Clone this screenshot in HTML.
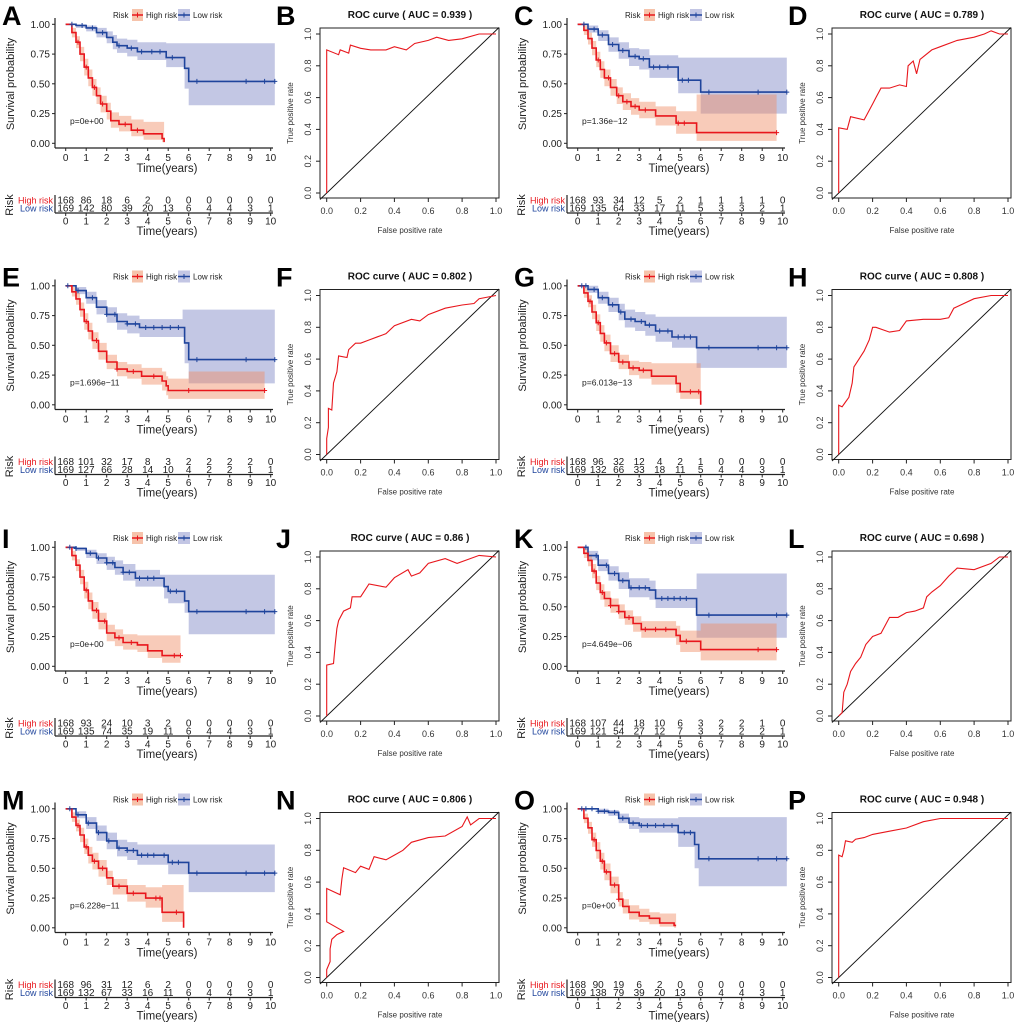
<!DOCTYPE html>
<html><head><meta charset="utf-8"><style>
body{margin:0;background:#fff;}
svg{display:block;font-family:"Liberation Sans",Arial,sans-serif;}
</style></head><body>
<svg id="fig" width="1020" height="1023" viewBox="0 0 1020 1023"></svg>
<script>
// ---------- KM data ----------
const A_hT=[0,0.3,0.5,0.7,0.9,1.1,1.3,1.5,1.7,2.0,2.2,2.6,3.2,3.8,4.7,4.8];
const A_hS=[1,.93,.85,.75,.64,.55,.47,.40,.33,.27,.19,.16,.11,.08,.04,.01];
const A_hLo=[1,.89,.80,.69,.57,.48,.40,.33,.26,.20,.13,.10,.06,.03,.01,0];
const A_hHi=[1,.97,.90,.81,.71,.62,.54,.47,.40,.34,.26,.23,.20,.18,.18,.18];
const A_hC=[0.6,1.0,1.4,1.8,2.9,3.5];
const A_lT=[0,0.5,1.0,1.5,2.0,2.3,2.5,3.0,3.5,4.9,5.8,6.0];
const A_lS=[1,.99,.97,.93,.89,.85,.82,.80,.77,.72,.63,.52];
const A_lLo=[1,.97,.94,.89,.84,.79,.76,.73,.70,.64,.46,.32];
const A_lHi=[1,1,.99,.97,.94,.91,.88,.87,.85,.84,.84,.84];
const A_lC=[0.3,0.8,1.3,1.8,2.6,3.2,3.7,4.2,4.6,5.2,6.4,8.8,9.7,10.2];
const A_rH=[168,86,18,6,2,0,0,0,0,0,0];
const A_rL=[169,142,80,39,20,13,6,4,4,3,1];

const C_hT=[0,.3,.5,.7,.9,1.1,1.3,1.6,1.9,2.2,2.6,3.0,3.8,4.8,5.8];
const C_hS=[1,.95,.88,.80,.70,.62,.55,.47,.40,.35,.31,.28,.23,.17,.09];
const C_hLo=[1,.91,.83,.74,.64,.55,.48,.40,.33,.28,.24,.21,.15,.08,.02];
const C_hHi=[1,.99,.93,.86,.77,.69,.62,.54,.47,.42,.38,.35,.31,.27,.41];
const C_hC=[1.0,1.5,2.0,2.4,2.8,3.3,4.9,5.2,9.7];
const C_lT=[0,.5,1.0,1.5,2.0,2.5,3.0,3.5,4.6,4.9,6.0];
const C_lS=[1,.96,.91,.83,.78,.73,.71,.64,.64,.53,.43];
const C_lLo=[1,.93,.86,.77,.71,.65,.62,.55,.55,.42,.25];
const C_lHi=[1,.99,.95,.89,.85,.80,.79,.74,.74,.72,.72];
const C_lC=[.3,.8,1.2,1.7,2.2,2.8,3.2,3.7,4.0,4.4,5.1,5.4,6.4,8.8,10.2];
const C_rH=[168,93,34,12,5,2,1,1,1,1,0];
const C_rL=[169,135,64,33,17,11,5,3,3,2,1];

const E_hT=[0,.3,.5,.7,.9,1.1,1.3,1.6,2.0,2.5,3.0,3.7,4.7,4.9,5.0,6.0];
const E_hS=[1,.95,.89,.80,.70,.62,.54,.45,.36,.30,.28,.24,.20,.16,.12,.12];
const E_hLo=[1,.91,.84,.74,.63,.55,.47,.38,.30,.24,.22,.17,.12,.08,.05,.05];
const E_hHi=[1,.99,.94,.86,.77,.69,.61,.52,.42,.36,.34,.31,.28,.24,.22,.28];
const E_hC=[1.0,1.5,2.5,3.3,4.3,6.0,9.7];
const E_lT=[0,.5,1.0,1.5,2.0,2.5,3.0,3.6,5.7,5.8,6.0];
const E_lS=[1,.96,.90,.82,.76,.70,.68,.65,.65,.52,.38];
const E_lLo=[1,.93,.85,.76,.69,.63,.60,.57,.57,.35,.18];
const E_lHi=[1,.99,.95,.88,.82,.77,.75,.72,.80,.80,.80];
const E_lC=[.1,.6,1.3,2.0,2.4,3.0,3.4,3.9,4.3,4.7,5.1,5.5,6.4,8.8,10.2];
const E_rH=[168,101,32,17,8,3,2,2,2,2,0];
const E_rL=[169,127,66,28,14,10,4,2,2,1,1];

const G_hT=[0,.3,.5,.7,.9,1.1,1.3,1.6,2.0,2.5,3.0,3.6,4.8,5.0,6.0];
const G_hS=[1,.94,.87,.78,.69,.60,.52,.43,.36,.31,.29,.24,.18,.11,0];
const G_hLo=[1,.90,.82,.72,.62,.53,.45,.36,.30,.25,.22,.17,.10,.05,0];
const G_hHi=[1,.98,.92,.84,.76,.67,.59,.50,.42,.37,.36,.35,.35,.35,.35];
const G_hC=[.6,1.0,1.4,1.8,2.2,2.7,3.2,5.5,5.9];
const G_lT=[0,.5,1.0,1.5,2.0,2.3,2.8,3.3,3.8,4.6,5.8];
const G_lS=[1,.97,.90,.84,.78,.72,.70,.67,.62,.57,.48];
const G_lLo=[1,.94,.85,.78,.71,.65,.62,.58,.53,.48,.31];
const G_lHi=[1,1,.95,.90,.85,.80,.78,.76,.74,.74,.74];
const G_lC=[.2,.4,.8,1.2,1.7,2.1,2.6,3.1,3.5,4.0,4.4,4.9,5.2,5.5,6.4,8.8,9.7,10.2];
const G_rH=[168,96,32,12,4,2,1,0,0,0,0];
const G_rL=[169,132,66,33,18,11,5,4,4,3,1];

const I_hT=[0,.3,.5,.7,.9,1.1,1.3,1.6,2.0,2.4,2.8,3.5,4.0,4.7];
const I_hS=[1,.93,.85,.75,.64,.55,.47,.38,.28,.24,.20,.18,.13,.09];
const I_hLo=[1,.89,.80,.69,.57,.48,.40,.31,.21,.17,.14,.12,.07,.03];
const I_hHi=[1,.97,.90,.81,.71,.62,.54,.45,.35,.31,.27,.26,.26,.26];
const I_hC=[1.0,1.5,1.9,2.6,3.2,5.3,5.6];
const I_lT=[0,.5,1.0,1.5,2.0,2.4,2.8,3.4,4.6,4.8,5.0,5.8,6.0];
const I_lS=[1,.99,.95,.91,.87,.83,.79,.74,.74,.67,.63,.55,.46];
const I_lLo=[1,.97,.91,.86,.81,.77,.72,.67,.67,.57,.53,.45,.27];
const I_lHi=[1,1,.98,.95,.92,.89,.86,.81,.77,.77,.77,.77,.77];
const I_lC=[.2,.5,1.2,1.6,2.0,2.3,2.8,3.1,3.6,4.0,4.3,5.1,5.4,6.4,8.8,9.7,10.2];
const I_rH=[168,93,24,10,3,2,0,0,0,0,0];
const I_rL=[169,135,74,35,19,11,6,4,4,3,1];

const K_hT=[0,.3,.5,.7,.9,1.1,1.3,1.6,2.0,2.3,2.7,3.1,4.6,4.8,5.0,6.0];
const K_hS=[1,.95,.89,.80,.70,.62,.57,.51,.46,.41,.36,.31,.31,.26,.21,.14];
const K_hLo=[1,.91,.84,.74,.64,.56,.50,.45,.40,.35,.29,.24,.24,.18,.12,.05];
const K_hHi=[1,.99,.94,.86,.76,.69,.63,.57,.52,.47,.42,.38,.38,.34,.30,.36];
const K_hC=[.8,1.2,1.6,2.0,2.5,3.3,3.8,4.3,5.3,8.8,9.7];
const K_lT=[0,.5,1.0,1.5,2.0,2.5,3.5,3.8,5.8];
const K_lS=[1,.93,.85,.78,.72,.66,.64,.57,.43];
const K_lLo=[1,.89,.80,.72,.65,.58,.56,.49,.24];
const K_lHi=[1,.97,.90,.84,.79,.74,.72,.65,.78];
const K_lC=[.4,.9,1.4,1.8,2.2,2.6,3.0,3.3,4.1,4.4,4.7,5.0,5.3,6.4,9.7,10.2];
const K_rH=[168,107,44,18,10,6,3,2,2,1,0];
const K_rL=[169,121,54,27,12,7,3,2,2,2,1];

const M_hT=[0,.3,.5,.7,.9,1.1,1.3,1.6,2.0,2.3,3.0,3.9,4.7,5.75];
const M_hS=[1,.93,.86,.78,.68,.61,.56,.50,.42,.35,.29,.25,.13,0];
const M_hLo=[1,.89,.81,.72,.62,.54,.49,.43,.36,.28,.22,.17,.05,0];
const M_hHi=[1,.97,.91,.84,.75,.68,.63,.57,.48,.41,.36,.34,.36,.36];
const M_hC=[.6,1.0,1.4,1.8,2.6,3.3,4.4,4.6,5.4];
const M_lT=[0,.5,1.0,1.5,2.0,2.5,3.0,3.5,5.0,6.0];
const M_lS=[1,.95,.88,.80,.73,.67,.65,.61,.55,.46];
const M_lLo=[1,.92,.83,.73,.66,.60,.57,.53,.45,.30];
const M_lHi=[1,.98,.93,.86,.80,.74,.72,.70,.70,.70];
const M_lC=[.2,.6,1.1,1.6,2.1,2.6,3.0,3.3,3.7,4.0,4.3,4.8,5.2,5.5,6.4,8.8,9.7,10.2];
const M_rH=[168,96,31,12,6,2,0,0,0,0,0];
const M_rL=[169,132,67,33,16,11,6,4,4,3,1];

const O_hT=[0,.3,.5,.7,.9,1.1,1.3,1.6,2.0,2.2,2.5,3.0,3.5,4.0,4.7];
const O_hS=[1,.92,.84,.74,.65,.56,.47,.36,.24,.18,.13,.10,.08,.04,.02];
const O_hLo=[1,.88,.79,.68,.58,.49,.40,.29,.18,.12,.07,.05,.03,.01,0];
const O_hHi=[1,.96,.89,.80,.72,.63,.54,.43,.30,.24,.19,.16,.13,.12,.12];
const O_hC=[.8,1.2,1.4,1.8,2.0];
const O_lT=[0,1.0,1.5,2.0,2.5,3.0,4.9,5.7,5.9];
const O_lS=[1,.98,.97,.92,.88,.86,.80,.70,.58];
const O_lLo=[1,.96,.94,.88,.83,.80,.68,.50,.35];
const O_lHi=[1,1,.99,.96,.93,.92,.93,.93,.93];
const O_lC=[.2,.4,.7,1.0,1.3,1.8,2.2,2.7,3.1,3.4,3.8,4.2,4.6,5.2,5.5,6.4,8.8,9.7,10.2];
const O_rH=[168,90,19,6,2,0,0,0,0,0,0];
const O_rL=[169,138,79,39,20,13,6,4,4,3,1];

// ---------- ROC data ----------
const B_fpr=[0,0,.07,.08,.13,.14,.2,.26,.35,.4,.47,.52,.6,.65,.72,.8,.9,1];
const B_tpr=[0,.9,.87,.9,.88,.93,.91,.9,.9,.92,.9,.94,.96,.98,.96,.97,1,1];
const D_fpr=[0,0,.05,.07,.15,.2,.22,.25,.3,.36,.4,.41,.44,.46,.48,.55,.6,.7,.8,.86,.9,.95,1];
const D_tpr=[0,.41,.40,.48,.46,.56,.6,.66,.66,.68,.67,.8,.83,.75,.84,.9,.92,.96,.98,1.0,1.02,1.0,1];
const F_fpr=[0,0,.01,.01,.03,.04,.06,.07,.12,.13,.17,.2,.25,.3,.35,.4,.5,.55,.6,.7,.8,.87,.9,1];
const F_tpr=[0,.1,.17,.29,.28,.45,.52,.62,.61,.66,.70,.70,.72,.74,.76,.81,.85,.84,.88,.92,.94,.95,.98,1];
const H_fpr=[0,0,.02,.04,.06,.08,.09,.12,.15,.18,.2,.22,.3,.36,.4,.5,.6,.65,.68,.7,.8,.9,1];
const H_tpr=[0,.31,.30,.33,.36,.45,.55,.60,.65,.72,.8,.8,.77,.78,.84,.85,.85,.86,.92,.93,.98,1,1];
const J_fpr=[0,0,.04,.05,.06,.07,.1,.14,.15,.2,.25,.35,.4,.48,.5,.55,.6,.7,.77,.9,1];
const J_tpr=[0,.32,.33,.45,.55,.6,.66,.68,.75,.75,.83,.81,.87,.92,.88,.9,.96,.99,.96,1.01,1];
const L_fpr=[0,.02,.03,.05,.07,.1,.13,.16,.2,.25,.3,.35,.4,.45,.5,.52,.55,.6,.65,.7,.8,.9,.95,1];
const L_tpr=[0,.02,.15,.2,.28,.33,.37,.45,.5,.52,.62,.62,.65,.66,.68,.75,.78,.82,.88,.93,.92,.96,1,1];
const N_fpr=[0,0,.02,.02,.03,.06,.1,0,0,.08,.09,.1,.17,.2,.25,.28,.35,.4,.45,.5,.6,.7,.8,.83,.85,.9,1];
const N_tpr=[0,.05,.1,.18,.24,.27,.29,.35,.56,.52,.62,.69,.66,.70,.68,.76,.74,.77,.80,.85,.88,.89,.95,1.01,.96,1,1];
const P_fpr=[0,0,.02,.03,.04,.08,.1,.15,.2,.3,.4,.5,.6,.7,.8,1];
const P_tpr=[0,.77,.76,.8,.86,.85,.87,.88,.9,.92,.94,.98,1,1,1,1];

const kmPanels=[
 {L:'A',col:0,row:0,p:'p=0e+00',h:[A_hT,A_hS,A_hLo,A_hHi,A_hC,4.8],l:[A_lT,A_lS,A_lLo,A_lHi,A_lC,10.2],rH:A_rH,rL:A_rL},
 {L:'C',col:1,row:0,p:'p=1.36e\u221212',h:[C_hT,C_hS,C_hLo,C_hHi,C_hC,9.7],l:[C_lT,C_lS,C_lLo,C_lHi,C_lC,10.2],rH:C_rH,rL:C_rL},
 {L:'E',col:0,row:1,p:'p=1.696e\u221211',h:[E_hT,E_hS,E_hLo,E_hHi,E_hC,9.7],l:[E_lT,E_lS,E_lLo,E_lHi,E_lC,10.2],rH:E_rH,rL:E_rL},
 {L:'G',col:1,row:1,p:'p=6.013e\u221213',h:[G_hT,G_hS,G_hLo,G_hHi,G_hC,6.0],l:[G_lT,G_lS,G_lLo,G_lHi,G_lC,10.2],rH:G_rH,rL:G_rL},
 {L:'I',col:0,row:2,p:'p=0e+00',h:[I_hT,I_hS,I_hLo,I_hHi,I_hC,5.6],l:[I_lT,I_lS,I_lLo,I_lHi,I_lC,10.2],rH:I_rH,rL:I_rL},
 {L:'K',col:1,row:2,p:'p=4.649e\u221206',h:[K_hT,K_hS,K_hLo,K_hHi,K_hC,9.7],l:[K_lT,K_lS,K_lLo,K_lHi,K_lC,10.2],rH:K_rH,rL:K_rL},
 {L:'M',col:0,row:3,p:'p=6.228e\u221211',h:[M_hT,M_hS,M_hLo,M_hHi,M_hC,5.75],l:[M_lT,M_lS,M_lLo,M_lHi,M_lC,10.2],rH:M_rH,rL:M_rL},
 {L:'O',col:1,row:3,p:'p=0e+00',h:[O_hT,O_hS,O_hLo,O_hHi,O_hC,4.8],l:[O_lT,O_lS,O_lLo,O_lHi,O_lC,10.2],rH:O_rH,rL:O_rL}
];
const rocPanels=[
 {L:'B',col:0,row:0,auc:'0.939',f:B_fpr,t:B_tpr},{L:'D',col:1,row:0,auc:'0.789',f:D_fpr,t:D_tpr},
 {L:'F',col:0,row:1,auc:'0.802',f:F_fpr,t:F_tpr},{L:'H',col:1,row:1,auc:'0.808',f:H_fpr,t:H_tpr},
 {L:'J',col:0,row:2,auc:'0.86',f:J_fpr,t:J_tpr},{L:'L',col:1,row:2,auc:'0.698',f:L_fpr,t:L_tpr},
 {L:'N',col:0,row:3,auc:'0.806',f:N_fpr,t:N_tpr},{L:'P',col:1,row:3,auc:'0.948',f:P_fpr,t:P_tpr}
];

const NS='http://www.w3.org/2000/svg';
const svg=document.getElementById('fig');
const RED='#E8161C',BLUE='#1F449C';
function mk(tag,attrs,parent,txt){const e=document.createElementNS(NS,tag);for(const k in attrs)e.setAttribute(k,attrs[k]);if(txt!==undefined)e.textContent=txt;(parent||svg).appendChild(e);return e;}

function stepPath(T,S,end,X,Y){let d='M'+X(T[0])+','+Y(S[0]);for(let i=1;i<T.length;i++){d+='H'+X(T[i])+'V'+Y(S[i]);}d+='H'+X(end);return d;}
function bandPath(T,Lo,Hi,end,X,Y){let d='M'+X(T[0])+','+Y(Hi[0]);for(let i=1;i<T.length;i++)d+='H'+X(T[i])+'V'+Y(Hi[i]);d+='H'+X(end)+'V'+Y(Lo[Lo.length-1]);for(let i=T.length-1;i>0;i--)d+='H'+X(T[i])+'V'+Y(Lo[i-1]);d+='H'+X(T[0])+'Z';return d;}

kmPanels.forEach(P=>{
 const ox=P.col*512, oy=P.row*261.5;
 const g=mk('g',{transform:`translate(${ox},${oy})`});
 
 
 const X=t=>(65.7+t*20.5).toFixed(1), Y=s=>(143.3-s*119).toFixed(1);
 const lt=mk('text',{x:2,y:25,'font-size':27,'font-weight':'bold'},g,P.L);
 
 const lg=mk('g',{'font-size':8,fill:'#222'},g);
 
 mk('text',{x:113,y:18},lg,'Risk');
 mk('rect',{x:132,y:9,width:11,height:12,fill:'#f6c3ab'},lg);
 mk('line',{x1:132,y1:15,x2:143,y2:15,stroke:RED,'stroke-width':1.5},lg);
 mk('line',{x1:137.5,y1:12.5,x2:137.5,y2:17.5,stroke:RED,'stroke-width':1},lg);
 mk('text',{x:146,y:18},lg,'High risk');
 mk('rect',{x:178,y:9,width:12,height:12,fill:'#c3c6e4'},lg);
 mk('line',{x1:178,y1:15,x2:190,y2:15,stroke:BLUE,'stroke-width':1.5},lg);
 mk('line',{x1:184,y1:12.5,x2:184,y2:17.5,stroke:BLUE,'stroke-width':1},lg);
 mk('text',{x:193,y:18},lg,'Low risk');
 const [hT,hS,hLo,hHi,hC,hE]=P.h,[lT,lS,lLo,lHi,lC,lE]=P.l;
 const b1=mk('path',{d:bandPath(lT,lLo,lHi,lE,X,Y),fill:'rgba(122,130,195,0.45)'},g);
 
 const b2=mk('path',{d:bandPath(hT,hLo,hHi,hE,X,Y),fill:'rgba(240,140,100,0.45)'},g);
 
 const c1=mk('path',{d:stepPath(lT,lS,lE,X,Y),fill:'none',stroke:BLUE,'stroke-width':1.6},g);
 
 const c2=mk('path',{d:stepPath(hT,hS,hE,X,Y),fill:'none',stroke:RED,'stroke-width':1.6},g);
 
 function sAt(T,S,t){let v=S[0];for(let i=0;i<T.length;i++)if(T[i]<=t)v=S[i];return v;}
 [[lT,lS,lC,BLUE],[hT,hS,hC,RED]].forEach(([T,S,C,col])=>{C.forEach(t=>{const x=+X(t),y=+Y(sAt(T,S,t));
  const m=mk('path',{d:`M${x-2.5},${y}H${x+2.5}M${x},${y-2.5}V${y+2.5}`,stroke:col,'stroke-width':1},g);
  });});
 mk('line',{x1:55,y1:18,x2:55,y2:148,stroke:'#222','stroke-width':1.2},g);
 mk('line',{x1:55,y1:148,x2:273,y2:148,stroke:'#222','stroke-width':1.2},g);
 ['0.00','0.25','0.50','0.75','1.00'].forEach((lab,i)=>{const y=+Y(i*0.25);
  mk('line',{x1:52,y1:y,x2:55,y2:y,stroke:'#222'},g);
  mk('text',{x:50,y:y+3.5,'font-size':10,'text-anchor':'end',fill:'#222'},g,lab);});
 for(let i=0;i<=10;i++){const x=+X(i);
  mk('line',{x1:x,y1:148,x2:x,y2:151,stroke:'#222'},g);
  mk('text',{x:x,y:161,'font-size':10,'text-anchor':'middle',fill:'#222'},g,String(i));
  mk('line',{x1:x,y1:213,x2:x,y2:216,stroke:'#222'},g);
  mk('text',{x:x,y:224.5,'font-size':10,'text-anchor':'middle',fill:'#222'},g,String(i));
  mk('text',{x:x,y:203.5,'font-size':10,'text-anchor':'middle',fill:'#222'},g,String(P.rH[i]));
  mk('text',{x:x,y:211.3,'font-size':10,'text-anchor':'middle',fill:'#222'},g,String(P.rL[i]));}
 mk('text',{x:167,y:172,'font-size':11.5,'text-anchor':'middle',fill:'#222'},g,'Time(years)');
 mk('text',{x:167,y:235,'font-size':11.5,'text-anchor':'middle',fill:'#222'},g,'Time(years)');
 mk('text',{x:0,y:0,'font-size':11,'text-anchor':'middle',fill:'#222',transform:'translate(14,84) rotate(-90)'},g,'Survival probability');
 mk('text',{x:0,y:0,'font-size':11,'text-anchor':'middle',fill:'#222',transform:'translate(13,205) rotate(-90)'},g,'Risk');
 mk('text',{x:70,y:124,'font-size':8.5,fill:'#222'},g,P.p);
 mk('text',{x:53,y:203.5,'font-size':9,'text-anchor':'end',fill:RED},g,'High risk');
 mk('text',{x:53,y:211.3,'font-size':9,'text-anchor':'end',fill:BLUE},g,'Low risk');
 mk('line',{x1:55,y1:195,x2:55,y2:213,stroke:'#222','stroke-width':1.2},g);
 mk('line',{x1:55,y1:213,x2:273,y2:213,stroke:'#222','stroke-width':1.2},g);
});

rocPanels.forEach(P=>{
 const ox=P.col*512, oy=P.row*261.5;
 const g=mk('g',{transform:`translate(${ox},${oy})`});
 
 
 const X=f=>(326.7+f*169.3).toFixed(1), Y=t=>(193-t*159).toFixed(1);
 const lt=mk('text',{x:276,y:25,'font-size':27,'font-weight':'bold'},g,P.L);
 
 const tt=mk('text',{x:410,y:18,'font-size':10,'font-weight':'bold','text-anchor':'middle',fill:'#111'},g,'ROC curve ( AUC =  '+P.auc+' )');
 
 mk('rect',{x:320,y:28,width:179,height:170,fill:'none',stroke:'#222','stroke-width':1},g);
 mk('line',{x1:320,y1:199.5,x2:499,y2:27.5,stroke:'#111','stroke-width':0.9},g);
 let d='';P.f.forEach((f,i)=>{d+=(i?'L':'M')+X(f)+','+Y(P.t[i]);});
 const c=mk('path',{d:d,fill:'none',stroke:RED,'stroke-width':1.1},g);
 
 ['0.0','0.2','0.4','0.6','0.8','1.0'].forEach((lab,i)=>{const v=i*0.2,y=+Y(v),x=+X(v);
  mk('line',{x1:320,y1:y,x2:316,y2:y,stroke:'#222'},g);
  mk('text',{x:0,y:0,'font-size':9,'text-anchor':'middle',fill:'#333',transform:`translate(311,${y}) rotate(-90)`},g,lab);
  mk('line',{x1:x,y1:198,x2:x,y2:202,stroke:'#222'},g);
  mk('text',{x:x,y:214,'font-size':9,'text-anchor':'middle',fill:'#333'},g,lab);});
 mk('text',{x:410,y:233,'font-size':8,'text-anchor':'middle',fill:'#333'},g,'False positive rate');
 mk('text',{x:0,y:0,'font-size':8,'text-anchor':'middle',fill:'#333',transform:'translate(293,113) rotate(-90)'},g,'True positive rate');
});
</script>
</body></html>
